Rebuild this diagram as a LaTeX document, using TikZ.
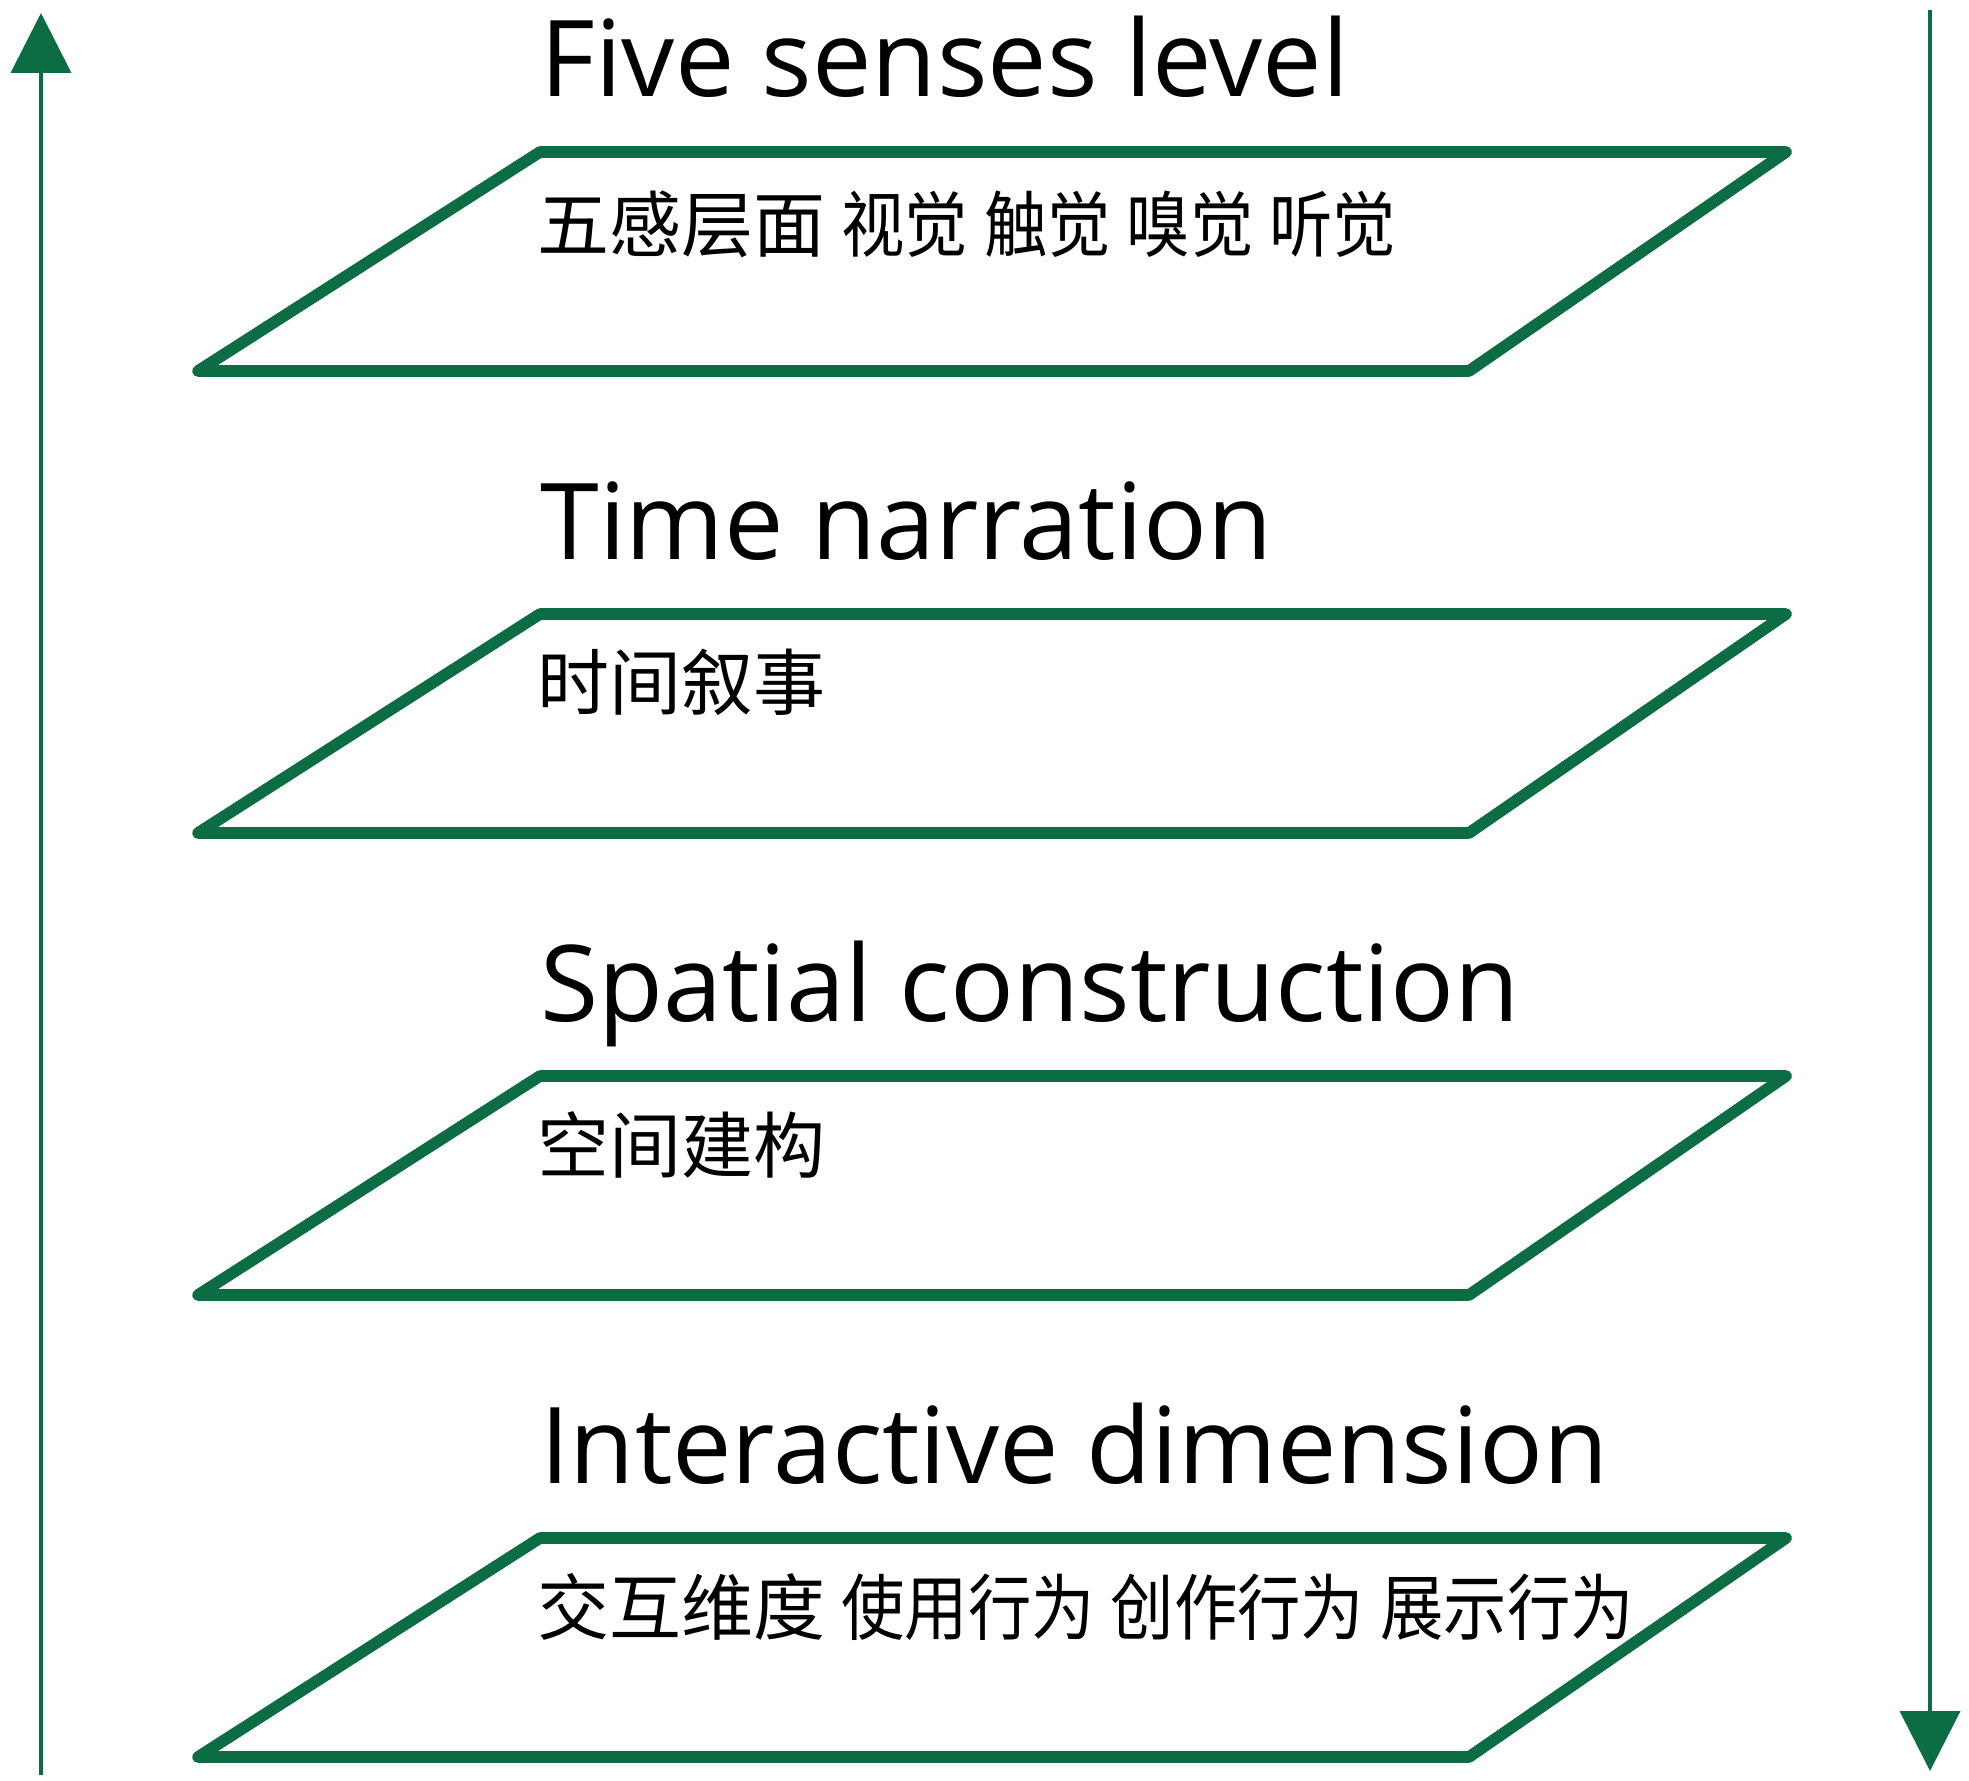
\documentclass[tikz,border=0pt]{standalone}
\usepackage{fontspec}
\setmainfont{Open Sans}
\newfontfamily\cjk{Noto Sans CJK SC}
\usetikzlibrary{arrows.meta}
\definecolor{lg}{RGB}{12,108,68}
\newcommand{\cg}[1]{\hspace{8pt}\scalebox{0.88}[1]{#1}}
\begin{document}
\begin{tikzpicture}[x=0.5pt,y=-0.5pt,
  plane/.style={draw=lg,line width=5.8pt,line join=round},
  axis/.style={draw=lg,line width=2pt,-{Triangle[width=30pt,length=30pt]}},
  title/.style={anchor=base west,inner sep=0,font=\fontsize{53}{60}\selectfont},
  cn/.style={anchor=west,inner sep=0,font=\cjk\fontsize{36}{40}\selectfont}]
\useasboundingbox (0,0) rectangle (1969,1781);
% axes
\coordinate (l0) at (41,1775);
\coordinate (l1) at (41,13);
\coordinate (r0) at (1930,10);
\coordinate (r1) at (1930,1771);
\draw[axis] (l0) -- (l1);
\draw[axis] (r0) -- (r1);
% planes
\foreach \i/\dy in {1/0,2/462,3/924,4/1386}{
  \draw[plane] (540,152+\dy) -- (1786,152+\dy) -- (1469,371+\dy) -- (198,371+\dy) -- cycle;
}
% titles
\node[title] (t1) at (540,97) {Five senses level};
\node[title] (t2) at (540,559) {Time narration};
\node[title] (t3) at (540,1021) {Spatial construction};
\node[title] (t4) at (540,1483) {Interactive dimension};
% chinese
\node[cn] (c1) at (537,224) {五感层面\cg{视觉}\cg{触觉}\cg{嗅觉}\cg{听觉}};
\node[cn] (c2) at (537,682) {时间叙事};
\node[cn] (c3) at (537,1145) {空间建构};
\node[cn] (c4) at (537,1607) {交互维度\cg{使用行为}\cg{创作行为}\cg{展示行为}};
\end{tikzpicture}
\end{document}
